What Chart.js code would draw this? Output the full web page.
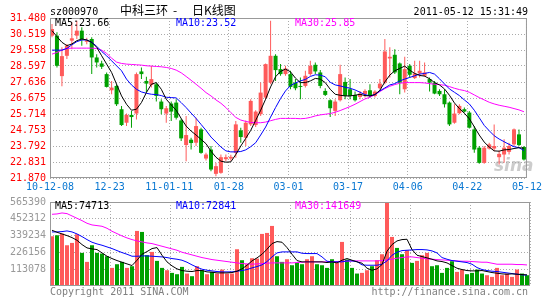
<!DOCTYPE html>
<html>
<head>
<meta charset="utf-8">
<script src="https://cdn.jsdelivr.net/npm/chart.js@4.4.0/dist/chart.umd.min.js"></script>
<style>
  body { margin: 0; background: #fff; }
  #wrap { position: relative; width: 545px; height: 300px; }
  canvas { position: absolute; left: 0; }
  #k { top: 0; }
  #v { top: 192px; }
</style>
</head>
<body>
<div id="wrap">
  <canvas id="k" width="545" height="192"></canvas>
  <canvas id="v" width="545" height="108"></canvas>
</div>
<script>
// sz000970 daily K line, 2010-12-08 .. 2011-05-12
const dateLabels = ['10-12-08', '12-23', '11-01-11', '01-28', '03-01', '03-17', '04-06', '04-22', '05-12'];
const priceTicks = [31.48, 30.519, 29.558, 28.597, 27.636, 26.675, 25.714, 24.753, 23.792, 22.831, 21.87];
const volTicks = [565390, 452312, 339234, 226156, 113078];

const open = [30.42,30.42,27.99,29.21,30.12,30.42,30.72,30.05,30.22,29.11,28.75,28.11,27.14,27.40,26.00,25.19,25.66,25.74,28.27,27.70,27.46,27.50,26.46,25.74,26.34,26.40,25.33,23.85,24.17,23.99,24.79,23.04,
  23.58,22.12,22.18,23.00,23.04,23.38,24.73,24.29,25.09,25.05,25.70,26.70,27.60,29.21,28.41,28.11,28.11,27.60,27.40,27.40,28.11,28.67,28.21,27.10,26.54,25.90,26.54,27.64,27.20,26.86,26.74,26.90,
  27.14,26.80,27.26,27.60,29.05,29.27,28.75,27.20,28.61,27.87,28.15,28.01,27.81,27.60,27.10,26.90,26.40,25.19,25.76,26.00,25.80,24.79,23.69,22.78,23.64,23.64,23.12,23.28,23.44,23.89,24.49,23.73];
const high = [31.12,30.62,29.72,29.92,31.22,31.32,30.92,30.30,30.32,29.31,28.91,28.21,27.70,27.50,26.20,25.74,25.90,28.21,28.51,27.95,28.61,27.60,26.60,26.20,26.46,26.60,25.45,25.60,24.29,25.49,24.89,23.38,
  23.79,22.78,23.28,23.28,23.26,25.29,24.89,25.33,26.60,25.94,27.60,28.75,31.32,29.31,28.71,28.61,28.31,27.81,27.91,28.31,28.91,28.81,28.35,27.26,26.60,26.60,28.67,27.91,27.81,27.06,27.10,27.20,
  27.50,27.14,27.81,30.22,29.72,29.61,28.81,29.15,28.71,28.91,28.91,28.81,27.91,27.70,27.20,27.20,26.46,26.30,26.30,26.10,25.90,24.99,23.79,23.79,23.99,25.09,23.52,24.19,23.99,24.85,24.79,23.79];
const low = [30.32,28.51,27.38,29.01,29.61,30.22,29.82,29.90,28.11,28.51,28.41,27.30,26.90,26.20,24.99,24.99,24.89,25.39,27.81,27.00,27.30,26.46,25.70,25.19,25.29,25.39,24.09,22.88,23.58,23.79,23.32,22.92,
  22.28,21.97,22.12,22.88,22.90,23.08,23.99,23.79,24.99,24.93,25.60,26.60,27.50,27.70,28.01,28.01,27.20,27.14,26.60,27.30,28.01,28.11,27.26,26.80,25.53,25.60,26.46,26.60,26.60,26.46,26.60,26.70,
  26.70,26.70,27.20,27.50,27.91,28.11,26.90,27.00,27.91,27.81,27.91,27.95,27.06,26.90,26.80,26.10,24.99,25.13,25.70,25.80,24.85,23.38,22.72,22.72,23.58,23.48,22.68,22.78,23.28,23.79,23.79,22.92];
const close = [30.82,28.61,29.19,29.82,30.26,30.72,30.22,30.12,29.11,28.81,28.55,27.34,27.30,26.30,25.05,25.66,25.53,28.11,28.11,27.54,27.81,26.80,26.00,26.06,25.86,25.49,24.25,24.45,23.97,24.99,23.38,23.28,
  22.38,22.58,23.12,23.12,23.14,25.09,24.33,25.19,26.50,25.86,27.00,28.71,29.21,28.35,28.11,28.45,27.34,27.26,27.34,28.01,28.61,28.27,27.40,26.86,26.06,26.46,28.11,26.80,26.80,26.54,26.94,27.10,
  26.80,27.06,27.54,29.47,29.15,28.21,27.60,28.41,28.07,28.15,28.31,28.21,27.60,26.94,26.90,26.30,25.09,25.74,26.20,25.86,24.89,23.58,22.78,23.69,23.89,23.79,23.32,23.69,23.79,24.79,23.85,22.98];

const ma5 = [30.72,30.36,30.02,29.82,29.92,30.12,30.22,30.16,30.02,29.72,29.21,28.71,28.21,27.50,26.80,26.30,25.94,26.00,26.40,27.00,27.50,27.60,27.20,26.60,26.26,25.94,25.45,24.99,24.69,24.45,24.19,23.93,
  23.48,23.12,22.88,22.82,22.84,23.28,23.79,24.25,24.73,25.33,25.94,26.60,27.34,27.95,28.27,28.41,28.25,27.87,27.60,27.60,27.70,27.85,27.81,27.60,27.20,26.90,26.84,26.80,26.80,26.84,26.90,26.82,
  26.80,26.88,27.14,27.64,28.05,28.31,28.45,28.59,28.35,28.15,28.03,27.99,27.83,27.60,27.46,27.22,26.84,26.38,26.04,25.76,25.43,24.95,24.45,24.03,23.73,23.50,23.48,23.56,23.58,23.64,23.69,23.66];
const ma10 = [29.55,29.55,29.55,29.65,29.87,30.06,30.16,30.16,30.02,29.78,29.47,29.21,28.91,28.61,28.31,27.81,27.46,27.20,27.04,26.96,26.90,26.88,26.82,26.72,26.70,26.68,26.40,26.10,25.77,25.45,25.09,24.73,
  24.33,24.03,23.73,23.50,23.44,23.44,23.46,23.56,23.75,23.99,24.45,24.93,25.53,26.10,26.64,27.10,27.42,27.58,27.70,27.79,27.97,28.07,28.05,27.95,27.62,27.46,27.40,27.32,27.26,27.16,27.02,26.88,
  26.80,26.88,27.10,27.28,27.46,27.54,27.70,27.81,27.91,28.01,28.11,28.15,28.21,28.11,27.83,27.52,27.22,27.02,26.82,26.56,26.32,25.94,25.49,25.03,24.71,24.41,24.21,24.05,23.89,23.75,23.69,23.52];
const ma30 = [29.31,29.41,29.55,29.65,29.67,29.67,29.67,29.67,29.67,29.65,29.55,29.35,29.07,28.83,28.75,28.71,28.69,28.67,28.65,28.61,28.59,28.57,28.55,28.51,28.45,28.35,28.19,27.97,27.74,27.50,27.26,27.00,
  26.80,26.56,26.36,26.10,25.80,25.51,25.35,25.27,25.21,25.19,25.19,25.23,25.31,25.39,25.45,25.45,25.45,25.45,25.43,25.45,25.51,25.60,25.66,25.70,25.74,25.82,25.92,26.04,26.16,26.30,26.46,26.62,
  26.72,26.88,27.06,27.24,27.38,27.48,27.56,27.60,27.60,27.60,27.60,27.58,27.54,27.50,27.48,27.44,27.36,27.26,27.18,27.12,27.02,26.86,26.70,26.56,26.42,26.32,26.24,26.18,26.12,26.04,25.96,25.85];

const volume = [334800,341500,352700,274300,290000,348300,222800,162300,274300,222800,218300,200300,121900,146600,162300,121900,133100,370700,363900,207100,229500,169000,121900,106200,88300,79300,
  128600,83800,65900,133100,106200,79300,95000,83800,110700,83800,83800,247400,173500,146600,186900,184700,350500,357200,404300,200300,162300,180200,139800,155500,146600,180200,200300,146600,139800,121900,180200,155500,296700,177900,121900,83800,
  88300,106200,133100,173500,213800,565390,330300,256400,213800,240700,155500,169000,207100,222800,133100,139800,88300,121900,166700,95000,110700,79300,88300,110700,83800,72600,61400,121900,72600,83800,61400,110700,83800,72600];
const vma5 = [375100,361700,350500,339300,325800,307900,278800,256400,249600,245200,222800,200300,184700,171200,160000,148800,137600,173500,213800,231700,251900,258600,207100,162300,135400,115200,
  104000,99500,97300,104000,104000,95000,92800,88300,88300,88300,90500,99500,115200,139800,169000,189100,213800,247400,285500,298900,294500,258600,213800,171200,162300,162300,162300,162300,162300,157800,162300,155500,173500,184700,173500,162300,
  153300,119700,106200,115200,144300,234000,278800,303400,312400,314600,245200,207100,198100,189100,180200,169000,164500,155500,137600,119700,110700,104000,101700,101700,104000,97300,90500,86100,81600,79300,81600,79300,77100,74713];
const vma10 = [363900,363900,366200,370700,363900,350500,332600,312400,294500,283300,274300,263100,251900,238400,225000,213800,200300,200300,202600,202600,200300,198100,195900,191400,184700,180200,
  173500,160000,142100,126400,112900,106200,101700,97300,95000,95000,95000,99500,104000,110700,121900,130900,142100,164500,195900,222800,229500,229500,229500,229500,220500,218300,218300,218300,195900,166700,162300,162300,162300,169000,169000,164500,
  142100,139800,139800,139800,146600,169000,207100,227200,238400,240700,242900,245200,245200,242900,236200,222800,191400,180200,171200,166700,162300,157800,146600,124200,110700,104000,99500,97300,92800,88300,83800,79300,74900,72841];
const vma30 = [482700,485000,491700,487200,471500,455800,440100,422200,411000,406500,402000,388600,368400,352700,337000,323600,312400,303400,296700,290000,285500,276500,267600,258600,249600,240700,
  227200,218300,209300,200300,191400,184700,177900,173500,169000,164500,160000,155500,151000,148800,146600,148800,151000,153300,155500,155500,155500,155500,155500,157800,160000,162300,162300,162300,162300,162300,162300,164500,166700,166700,169000,169000,
  169000,169000,169000,169000,171200,175700,180200,186900,191400,195900,195900,191400,186900,182400,180200,177900,175700,173500,171200,169000,166700,166700,164500,162300,160000,160000,153300,146600,146600,146600,146600,144300,144300,141649];

const UP = '#ff5a5a';
const DOWN = '#00a000';
const MONO = 'DejaVu Sans Mono';
const colors = close.map((c, i) => c >= open[i] ? UP : DOWN);
const pts = arr => arr.map((v, i) => ({ x: i, y: v }));

function maLine(arr, color) {
  return { type: 'line', data: pts(arr), borderColor: color, borderWidth: 1, pointRadius: 0, tension: 0, order: 0 };
}

function xAxis(showLabels) {
  return {
    type: 'linear', min: -0.4, max: 95.6, offset: false,
    grid: { color: '#aaaaaa', drawTicks: false, offset: false },
    border: { display: false, dash: [1, 2] },
    ticks: {
      display: showLabels, autoSkip: false, maxRotation: 0, padding: 3,
      color: '#0a78d2', font: { family: MONO, size: 10 },
      callback: (v, i) => dateLabels[i]
    },
    afterBuildTicks: s => { s.ticks = dateLabels.map((d, k) => ({ value: -0.4 + 12 * k })); },
    afterFit: s => { s.height = showLabels ? 14 : 0; }
  };
}

function yAxis(min, max, ticks, color, fmt) {
  return {
    min: min, max: max,
    grid: { color: '#aaaaaa', drawTicks: false },
    border: { display: false, dash: [1, 2] },
    ticks: { autoSkip: false, padding: 4, color: color, font: { family: MONO, size: 10 }, callback: fmt },
    afterBuildTicks: s => { s.ticks = ticks.map(v => ({ value: v })); },
    afterFit: s => { s.width = 50; }
  };
}

// gray frame round the plot area
const frame = {
  id: 'frame',
  afterDatasetsDraw(chart) {
    const { ctx, chartArea: a } = chart;
    ctx.save();
    ctx.strokeStyle = '#999999';
    ctx.lineWidth = 1;
    ctx.strokeRect(a.left + 0.5, a.top + 0.5, a.right - a.left - 1, a.bottom - a.top - 1);
    ctx.restore();
  }
};

function maLabels(ctx, y, texts) {
  ctx.font = '10px "' + MONO + '"';
  ctx.textBaseline = 'middle';
  ctx.textAlign = 'left';
  const xs = [55, 176, 295];
  const cs = ['#000000', '#0000ff', '#ff00ff'];
  texts.forEach((t, k) => { ctx.fillStyle = cs[k]; ctx.fillText(t, xs[k], y); });
}

const kText = {
  id: 'kText',
  beforeDatasetsDraw(chart) {
    const ctx = chart.ctx;
    ctx.save();
    ctx.font = 'italic bold 17px "DejaVu Sans"';
    ctx.fillStyle = 'rgba(170,170,170,0.6)';
    ctx.fillText('sina', 494, 171);
    ctx.restore();
  },
  afterDraw(chart) {
    const ctx = chart.ctx;
    ctx.save();
    ctx.fillStyle = '#000';
    ctx.font = '10px "' + MONO + '"';
    ctx.textBaseline = 'alphabetic';
    ctx.fillText('sz000970', 50, 15);
    ctx.textAlign = 'right';
    ctx.fillText('2011-05-12 15:31:49', 528, 15);
    ctx.textAlign = 'left';
    ctx.font = '12px "Noto Sans CJK SC"';
    ctx.fillText('中科三环', 120, 15);
    ctx.fillText('-', 173, 15);
    ctx.fillText('日K线图', 192, 15);
    maLabels(ctx, 23, ['MA5:' + ma5[95].toFixed(2), 'MA10:' + ma10[95].toFixed(2), 'MA30:' + ma30[95].toFixed(2)]);
    ctx.restore();
  }
};

const vText = {
  id: 'vText',
  afterDraw(chart) {
    const ctx = chart.ctx;
    ctx.save();
    maLabels(ctx, 14, ['MA5:' + vma5[95], 'MA10:' + vma10[95], 'MA30:' + vma30[95]]);
    ctx.fillStyle = '#808080';
    ctx.fillText('Copyright 2011 SINA.COM', 50, 100);
    ctx.textAlign = 'right';
    ctx.fillText('http://finance.sina.com.cn', 528, 100);
    ctx.restore();
  }
};

const common = {
  responsive: false,
  animation: false,
  devicePixelRatio: 1,
  events: [],
  plugins: { legend: { display: false }, tooltip: { enabled: false } }
};

new Chart(document.getElementById('k'), {
  type: 'bar',
  data: {
    datasets: [
      maLine(ma5, '#000000'),
      maLine(ma10, '#0000ff'),
      maLine(ma30, '#ff00ff'),
      { type: 'bar', data: high.map((h, i) => ({ x: i, y: [low[i], h] })), backgroundColor: colors,
        barThickness: 1, grouped: false, inflateAmount: 0, order: 2 },
      { type: 'bar', data: open.map((o, i) => ({ x: i, y: [o, close[i]] })), backgroundColor: colors,
        barThickness: 4, minBarLength: 1, grouped: false, inflateAmount: 0, order: 1 }
    ]
  },
  options: Object.assign({}, common, {
    layout: { padding: { left: 0, right: 15, top: 18, bottom: 0 } },
    scales: {
      x: xAxis(true),
      y: yAxis(21.87, 31.48, priceTicks, '#ff0000', v => v.toFixed(3))
    }
  }),
  plugins: [frame, kText]
});

new Chart(document.getElementById('v'), {
  type: 'bar',
  data: {
    datasets: [
      maLine(vma5, '#000000'),
      maLine(vma10, '#0000ff'),
      maLine(vma30, '#ff00ff'),
      { type: 'bar', data: pts(volume), backgroundColor: colors,
        barThickness: 4, grouped: false, inflateAmount: 0, order: 1 }
    ]
  },
  options: Object.assign({}, common, {
    layout: { padding: { left: 0, right: 15, top: 10, bottom: 14 } },
    scales: {
      x: xAxis(false),
      y: yAxis(0, 565390, volTicks, '#999999', v => String(v))
    }
  }),
  plugins: [frame, vText]
});
</script>
</body>
</html>
